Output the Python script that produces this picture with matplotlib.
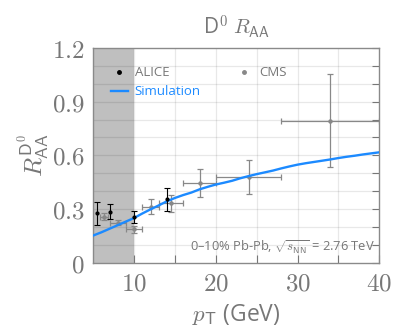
import matplotlib
matplotlib.use("Agg")
import matplotlib.pyplot as plt
from matplotlib.lines import Line2D
import numpy as np

plt.rcParams['font.family'] = ['Open Sans', 'DejaVu Sans']
plt.rcParams['mathtext.fontset'] = 'cm'

# ---- data ----
alice_pt = [5.5, 7.0, 10.0, 14.0]
alice_raa = [0.275, 0.285, 0.255, 0.354]
alice_err = [0.065, 0.042, 0.035, 0.065]

cms_pt = [6.3, 8.0, 10.0, 12.0, 14.5, 18.0, 24.0, 34.0]
cms_pt_err = [0.5, 1.0, 1.0, 1.0, 1.5, 2.0, 4.0, 6.0]
cms_raa = [0.256, 0.223, 0.186, 0.312, 0.331, 0.446, 0.480, 0.793]
cms_err = [0.020, 0.015, 0.020, 0.042, 0.046, 0.078, 0.095, 0.26]

sim_pt = [5, 6, 7, 8, 9, 10, 11, 12, 13, 14, 15, 16, 17, 18, 19, 20, 21, 22,
          23, 24, 25, 26, 27, 28, 29, 30, 31, 32, 33, 34, 35, 36, 37, 38, 39, 40]
sim_raa = [0.152, 0.170, 0.190, 0.210, 0.230, 0.250, 0.275, 0.298, 0.320,
           0.343, 0.362, 0.378, 0.392, 0.410, 0.424, 0.437, 0.447, 0.458,
           0.472, 0.484, 0.495, 0.505, 0.515, 0.527, 0.538, 0.548, 0.556,
           0.563, 0.570, 0.577, 0.585, 0.592, 0.598, 0.605, 0.611, 0.617]

x_ticks = [10, 20, 30, 40]
x_minor = [15, 25, 35]
y_ticks = [0, 0.3, 0.6, 0.9, 1.2]
y_tick_labels = ['0', '0.3', '0.6', '0.9', '1.2']
y_minor = [0.1, 0.2, 0.4, 0.5, 0.7, 0.8, 1.0, 1.1]
shade_range = (5, 10)

GRAY = '#777777'
BLUE = '#1c8aff'

fig = plt.figure(figsize=(3.94, 3.30), dpi=100)
ax = fig.add_axes([0.2368, 0.204, 0.7259, 0.6505])

ax.set_xlim(5, 40)
ax.set_ylim(0, 1.2)

ax.axvspan(shade_range[0], shade_range[1], color='#bfbfbf', zorder=0, lw=0)

# grid
for v in x_minor + [10, 20, 30]:
    ax.axvline(v, color='black', alpha=0.09, lw=0.9, zorder=0.5)
for v in y_minor + [0.3, 0.6, 0.9]:
    ax.axhline(v, color='black', alpha=0.09, lw=0.9, zorder=0.5)

ax.plot(sim_pt, sim_raa, color=BLUE, lw=1.7, zorder=3)

ax.errorbar(cms_pt, cms_raa, xerr=cms_pt_err, yerr=cms_err, fmt='o',
            color='#888888', ms=2.2, elinewidth=0.9, capsize=2, capthick=0.9,
            zorder=2)
ax.errorbar(alice_pt, alice_raa, yerr=alice_err, fmt='o', color='black',
            ms=2.0, elinewidth=0.8, capsize=2, capthick=0.8, zorder=4)

# ticks
ax.set_xticks(x_ticks)
ax.set_xticks(x_minor, minor=True)
ax.set_xticklabels(['$%s$' % t for t in x_ticks])
ax.set_yticks(y_ticks)
ax.set_yticks(y_minor, minor=True)
ax.set_yticklabels(['$%s$' % t for t in y_tick_labels])
ax.tick_params(axis='x', which='both', direction='in', length=6, width=0.8,
               color=GRAY, labelcolor=GRAY, labelsize=18, pad=6, top=False)
ax.tick_params(axis='y', which='both', direction='in', length=5, width=0.8,
               color=GRAY, labelcolor=GRAY, labelsize=18, left=False,
               right=True, pad=6)
for s in ax.spines.values():
    s.set_color('#8a8a8a')
    s.set_linewidth(1.0)

ax.set_xlabel(r'$p_{\mathsf{T}}$ (GeV)', color=GRAY, fontsize=16.5, labelpad=4)
ax.set_ylabel(r'$R_{\mathsf{AA}}^{\mathsf{D}^0}$', color=GRAY, fontsize=18,
              labelpad=0)
ax.set_title(r'D$^0$ $R_{\mathsf{AA}}$', color=GRAY, fontsize=15, pad=10)

ax.text(0.985, 0.07, r'0–10% Pb-Pb, $\sqrt{s_{\mathsf{NN}}}$ = 2.76 TeV',
        transform=ax.transAxes, ha='right', va='center', color=GRAY,
        fontsize=9.3)

handles = [
    Line2D([], [], marker='o', ls='none', color='black', ms=2.5),
    Line2D([], [], color=BLUE, lw=1.7),
    Line2D([], [], marker='o', ls='none', color='#888888', ms=2.5),
]
labels = ['ALICE', 'Simulation', 'CMS']
leg = ax.legend(handles, labels, ncol=2, loc='upper left',
                bbox_to_anchor=(0.02, 0.97), frameon=False, fontsize=9.5,
                handlelength=1.3, handletextpad=0.5, columnspacing=2.6,
                labelspacing=0.45)
for t, c in zip(leg.get_texts(), [GRAY, BLUE, GRAY]):
    t.set_color(c)

fig.savefig('out.png', dpi=100)
